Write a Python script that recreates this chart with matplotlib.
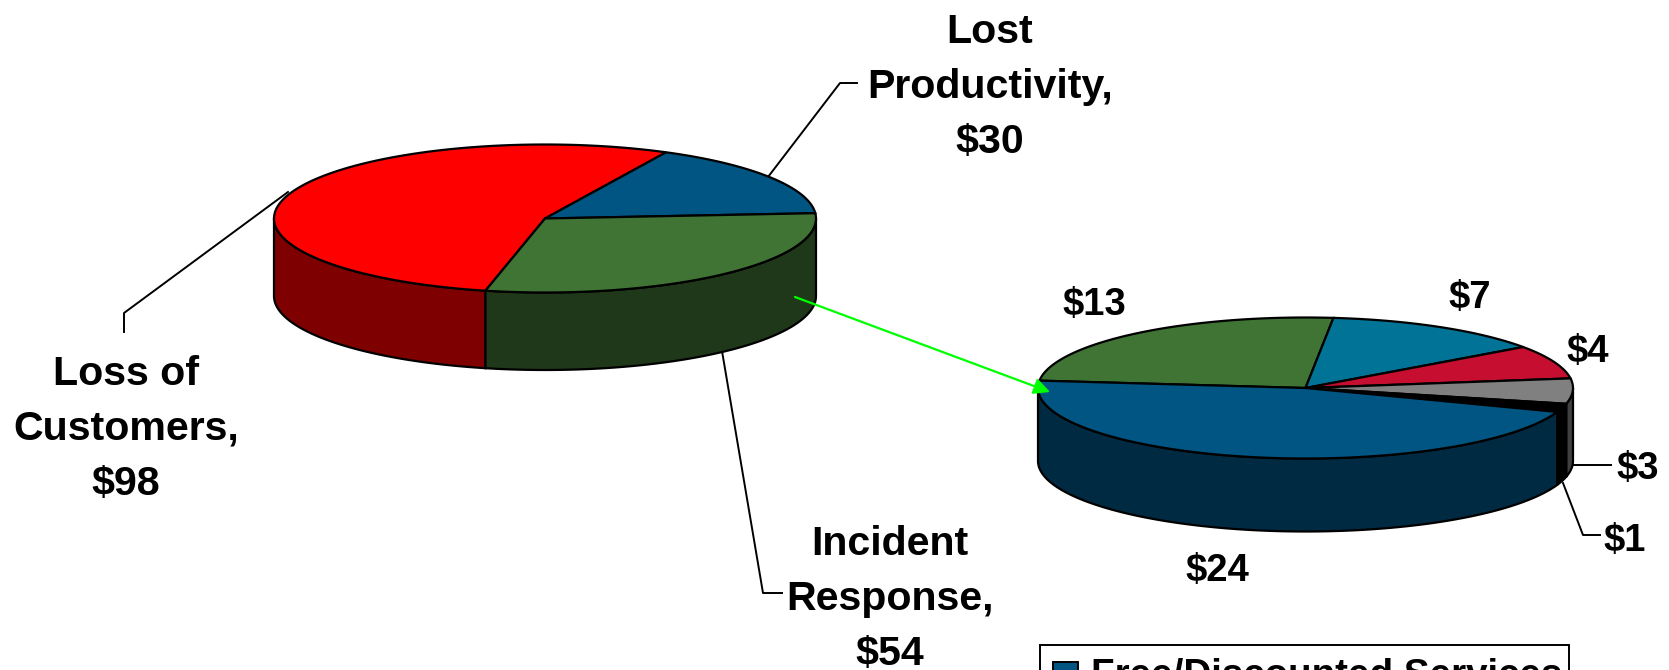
import numpy as np
import matplotlib
matplotlib.use('Agg')
import matplotlib.pyplot as plt
from matplotlib.patches import Polygon, Rectangle

plt.rcParams['font.family'] = ['Liberation Sans', 'DejaVu Sans']

# pie izquierdo
left_names = ['Loss of\nCustomers,\n$98', 'Lost\nProductivity,\n$30', 'Incident\nResponse,\n$54']
left_values = [98, 30, 54]
left_top = ['#ff0000', '#005582', '#3f7434']
left_side = ['#7f0000', '#00293f', '#1f3819']

# pie derecho
right_names = ['$13', '$7', '$4', '$3', '$1', '$24']
right_values = [13, 7, 4, 3, 1, 24]
right_top = ['#3f7434', '#007396', '#c60f30', '#808080', '#000000', '#005582']
right_side = ['#1f3819', '#003a4b', '#630818', '#404040', '#000000', '#002a41']

legend_label = 'Free/Discounted Services'

fig = plt.figure(figsize=(16.69, 6.70), dpi=100)
ax = fig.add_axes([0, 0, 1, 1])
ax.set_xlim(0, 1669)
ax.set_ylim(670, 0)
ax.axis('off')


def arc(cx, cy, a, b, t1, t2):
    t = np.radians(np.linspace(t1, t2, max(int(abs(t2 - t1)), 2) + 1))
    return np.column_stack([cx + a * np.cos(t), cy - b * np.sin(t)])


# dibuja un pie 3D, las porciones van en sentido horario desde start
def pie3d(values, tops, sides, start, cx, cy, a, b, depth):
    total = sum(values)
    ang = start
    for v, ct, cs in zip(values, tops, sides):
        end = ang - v / total * 360
        # la pared solo se ve en la mitad de abajo (t entre -180 y 0)
        for shift in (0, -360, 360):
            t1 = min(ang + shift, 0)
            t2 = max(end + shift, -180)
            if t1 > t2:
                p = arc(cx, cy, a, b, t1, t2)
                wall = np.vstack([p, (p + [0, depth])[::-1]])
                ax.add_patch(Polygon(wall, closed=True, fc=cs, ec='black', lw=1.6, zorder=2))
        p = arc(cx, cy, a, b, ang, end)
        ax.add_patch(Polygon(np.vstack([[cx, cy], p]), closed=True, fc=ct, ec='black', lw=1.6, zorder=3))
        ang = end


pie3d(left_values, left_top, left_side, 257.3, 545, 218.5, 271, 74, 77.5)
pie3d(right_values, right_top, right_side, 174, 1305.5, 388, 267.5, 70.5, 73)

# lineas guia
leaders = [
    ([768, 840, 857], [177, 83, 83]),
    ([288, 124, 124], [192, 313, 332]),
    ([722, 763, 782], [351, 593, 593]),
    ([1573, 1611], [465, 465]),
    ([1563, 1583, 1600], [483, 535, 535]),
]
for xs, ys in leaders:
    ax.plot(xs, ys, color='black', lw=1.4, zorder=1)

# flecha verde
ax.annotate('', xy=(1050, 392), xytext=(795, 297), zorder=5,
            arrowprops=dict(arrowstyle='-|>', color='#00ff00', lw=1.6, mutation_scale=24,
                            shrinkA=0, shrinkB=0))

left_pos = [(126, 429), (990, 87), (890, 599)]
for name, (x, y) in zip(left_names, left_pos):
    ax.text(x, y, name, ha='center', va='center', fontsize=29.6, fontweight='bold',
            linespacing=1.56, zorder=6)

right_pos = [(1094, 305), (1470, 298), (1588, 352), (1638, 469), (1625, 541), (1217, 571)]
for name, (x, y) in zip(right_names, right_pos):
    ax.text(x, y, name, ha='center', va='center', fontsize=27.5, fontweight='bold', zorder=6)

# leyenda, cortada por el borde de abajo
ax.add_patch(Rectangle((1040, 645), 529, 60, fc='white', ec='black', lw=1.4, zorder=4))
ax.add_patch(Rectangle((1053, 662), 25, 30, fc=right_top[5], ec='black', lw=1.4, zorder=5))
ax.text(1091, 658, legend_label, ha='left', va='top', fontsize=27.7, fontweight='bold', zorder=6)

fig.savefig('out.png', dpi=100)
